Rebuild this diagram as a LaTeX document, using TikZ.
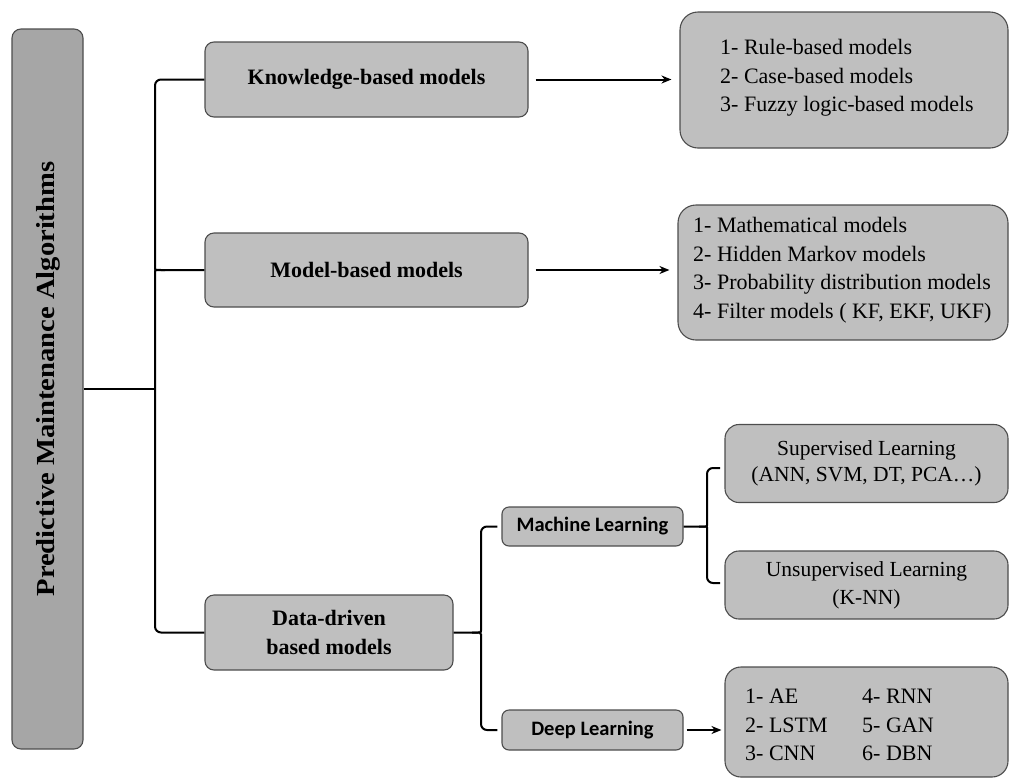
\documentclass[tikz,border=0pt]{standalone}
\usepackage{fontspec}
\setmainfont{Liberation Serif}
\newfontfamily\calib{Carlito}
\newfontfamily\tnr{Liberation Serif}
\usetikzlibrary{calc,arrows.meta}
\definecolor{boxgray}{HTML}{BFBFBF}
\definecolor{maingray}{HTML}{A6A6A6}
\definecolor{edgegray}{HTML}{4D4D4D}
\begin{document}
\begin{tikzpicture}[x=1pt,y=-1pt,
  box/.style={draw=edgegray,fill=boxgray,line width=1.1pt,rounded corners=9pt,inner sep=0pt,align=center},
  bigbox/.style={box,rounded corners=18pt},
  hdr/.style={font=\tnr\fontsize{22}{26}\selectfont\bfseries},
  listtext/.style={font=\tnr\fontsize{22}{28.5}\selectfont,align=left,inner sep=0pt},
  calibri/.style={font=\calib\fontsize{20.5}{24}\selectfont\bfseries},
  conn/.style={line width=2pt,rounded corners=6pt},
  arr/.style={line width=2pt,-{Stealth[length=10pt,width=8pt]},shorten <=7pt,shorten >=8pt}]
\useasboundingbox (0,0) rectangle (1010,780);
% main vertical box
\node[box,fill=maingray,minimum width=71pt,minimum height=720pt] (main) at (47.5,389) {};
\node[rotate=90,font=\tnr\fontsize{26}{30}\selectfont\bfseries,inner sep=0pt] (title) at (48,379)
  {\scalebox{1.1}[1]{Predictive Maintenance Algorithms}};
% level 1
\node[box,hdr,minimum width=323pt,minimum height=75pt] (kb) at (366.5,79.5) {Knowledge-based models};
\node[box,hdr,minimum width=323pt,minimum height=74pt] (mb) at (366.5,270) {Model-based models};
\node[box,hdr,minimum width=248pt,minimum height=75pt,font=\tnr\fontsize{22}{29}\selectfont\bfseries] (dd) at (329,632.5) {Data-driven\\based models};
% lists
\node[bigbox,minimum width=328pt,minimum height=136pt] (rb) at (844,80) {};
\node[listtext,anchor=west] (rbt) at (720,78) {1- Rule-based models\\2- Case-based models\\3- Fuzzy logic-based models};
\node[bigbox,minimum width=330pt,minimum height=135pt] (mbl) at (843,272.5) {};
\node[listtext,anchor=west] (mblt) at (693,270) {1- Mathematical models\\2- Hidden Markov models\\3- Probability distribution models\\4- Filter models ( KF, EKF, UKF)};
% level 2
\node[box,calibri,minimum width=181pt,minimum height=39pt,rounded corners=7pt] (ml) at (592.5,526.5) {Machine Learning};
\node[box,calibri,minimum width=181pt,minimum height=40pt,rounded corners=7pt] (dl) at (592.5,730) {Deep Learning};
\node[box,minimum width=283pt,minimum height=78pt,rounded corners=14pt,font=\tnr\fontsize{21.5}{26.5}\selectfont] (sup) at (866.5,463.5) {Supervised Learning\\(ANN, SVM, DT, PCA\ldots)};
\node[box,minimum width=283pt,minimum height=68pt,rounded corners=14pt,font=\tnr\fontsize{21.5}{28}\selectfont] (uns) at (866.5,585) {Unsupervised Learning\\(K-NN)};
\node[bigbox,minimum width=283pt,minimum height=110pt,rounded corners=16pt] (dll) at (866.5,722) {};
\node[listtext,anchor=west] (dll1) at (745,725) {1- AE\\2- LSTM\\3- CNN};
\node[listtext,anchor=west] (dll2) at (862,725) {4- RNN\\5- GAN\\6- DBN};
% connectors level 1
\coordinate (sp) at (155,0);
\draw[conn] (main.east) -- (main.east -| sp);
\draw[conn] (kb.west) -- (kb.west -| sp) -- ($(mb.west -| sp)+(0,-7)$) [sharp corners] .. controls (mb.west -| sp) .. ($(mb.west -| sp)+(10,0)$) -- (mb.west);
\draw[conn] ($(mb.west -| sp)+(10,0)$) .. controls (mb.west -| sp) .. ($(mb.west -| sp)+(0,7)$) [rounded corners=6pt] -- (dd.west -| sp) -- (dd.west);
\draw[arr] (kb.east) -- (kb.east -| rb.west);
\draw[arr] (mb.east) -- (mb.east -| mbl.west);
% data-driven brace
\coordinate (bx) at (481,0);
\draw[conn] (dd.east) -- ($(dd.east -| bx)+(-9,0)$) .. controls (dd.east -| bx) .. ($(dd.east -| bx)+(0,-8)$) [rounded corners=6pt] -- (ml.west -| bx) -- ([xshift=-4pt]ml.west);
\draw[conn] ($(dd.east -| bx)+(-9,0)$) .. controls (dd.east -| bx) .. ($(dd.east -| bx)+(0,8)$) [rounded corners=6pt] -- (dl.west -| bx) -- ([xshift=-4pt]dl.west);
% machine learning brace
\coordinate (bm) at (707,0);
\coordinate (supc) at (720,468);
\coordinate (unsc) at (720,583);
\draw[conn] (ml.east) -- ($(ml.east -| bm)+(-8,0)$) .. controls (ml.east -| bm) .. ($(ml.east -| bm)+(0,-7)$) [rounded corners=6pt] -- (supc -| bm) -- (supc);
\draw[conn] ($(ml.east -| bm)+(-8,0)$) .. controls (ml.east -| bm) .. ($(ml.east -| bm)+(0,7)$) [rounded corners=6pt] -- (unsc -| bm) -- (unsc);
\draw[arr,shorten <=3pt,shorten >=3pt] (dl.east) -- (dl.east -| dll.west);
\end{tikzpicture}
\end{document}
